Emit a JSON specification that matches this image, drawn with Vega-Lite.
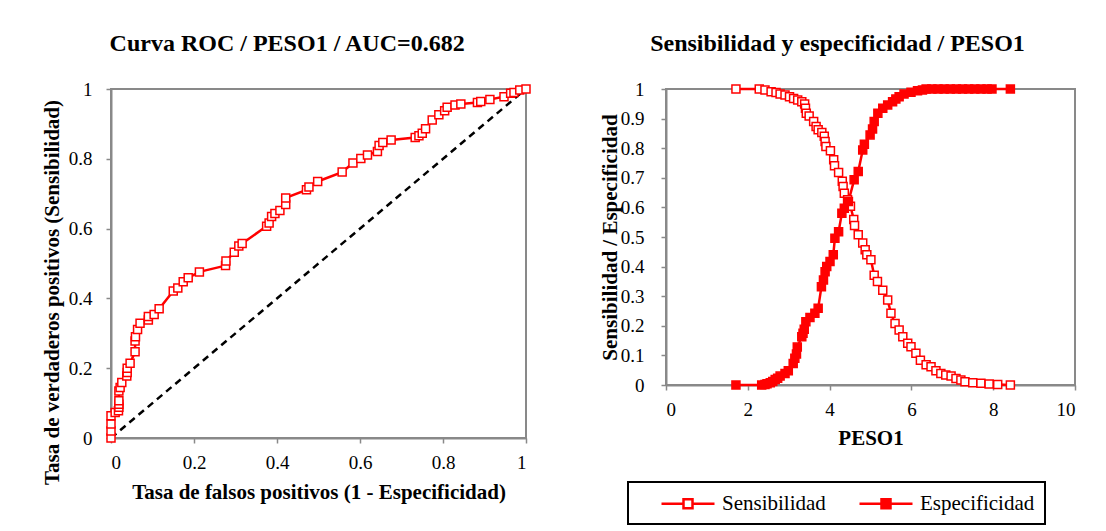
{
  "$schema": "https://vega.github.io/schema/vega-lite/v6.json",
  "padding": {"left": 40, "top": 31, "right": 5, "bottom": 5},
  "spacing": 64,
  "config": {
    "font": "Liberation Serif",
    "view": {"stroke": "#898989", "strokeWidth": 2},
    "axis": {
      "domainColor": "#898989", "domainWidth": 2, "tickColor": "#898989", "tickWidth": 1.5, "tickSize": 5,
      "grid": false, "labelFont": "Liberation Serif", "labelFontSize": 19, "labelColor": "black", "labelPadding": 10,
      "titleFont": "Liberation Serif", "titleFontSize": 21, "titleFontWeight": "bold", "titleColor": "black", "format": "~r"
    },
    "title": {"font": "Liberation Serif", "fontSize": 24, "fontWeight": "bold", "color": "black", "offset": 24, "frame": "bounds"}
  },
  "hconcat": [
    {
      "width": 415,
      "height": 349,
      "title": "Curva ROC / PESO1 / AUC=0.682",
      "layer": [
        {
          "data": {"values": [{"fx": 0, "ty": 0}, {"fx": 1, "ty": 1}]},
          "mark": {"type": "line", "color": "black", "strokeWidth": 2.5, "strokeDash": [7, 5]},
          "encoding": {
            "x": {"field": "fx", "type": "quantitative"},
            "y": {"field": "ty", "type": "quantitative"}
          }
        },
        {
          "data": {"values": [
            {"fpr": 0, "tpr": 0}, {"fpr": 0, "tpr": 0.02}, {"fpr": 0, "tpr": 0.04}, {"fpr": 0, "tpr": 0.064},
            {"fpr": 0.01, "tpr": 0.073}, {"fpr": 0.018, "tpr": 0.078}, {"fpr": 0.019, "tpr": 0.088}, {"fpr": 0.019, "tpr": 0.097},
            {"fpr": 0.019, "tpr": 0.107}, {"fpr": 0.019, "tpr": 0.135}, {"fpr": 0.022, "tpr": 0.145}, {"fpr": 0.026, "tpr": 0.159},
            {"fpr": 0.038, "tpr": 0.178}, {"fpr": 0.039, "tpr": 0.188}, {"fpr": 0.039, "tpr": 0.2}, {"fpr": 0.046, "tpr": 0.214},
            {"fpr": 0.058, "tpr": 0.247}, {"fpr": 0.058, "tpr": 0.278}, {"fpr": 0.059, "tpr": 0.29}, {"fpr": 0.064, "tpr": 0.311},
            {"fpr": 0.07, "tpr": 0.329}, {"fpr": 0.09, "tpr": 0.338}, {"fpr": 0.09, "tpr": 0.348}, {"fpr": 0.104, "tpr": 0.354},
            {"fpr": 0.116, "tpr": 0.37}, {"fpr": 0.15, "tpr": 0.421}, {"fpr": 0.161, "tpr": 0.43}, {"fpr": 0.174, "tpr": 0.448},
            {"fpr": 0.186, "tpr": 0.459}, {"fpr": 0.213, "tpr": 0.476}, {"fpr": 0.276, "tpr": 0.494}, {"fpr": 0.277, "tpr": 0.507},
            {"fpr": 0.297, "tpr": 0.532}, {"fpr": 0.308, "tpr": 0.55}, {"fpr": 0.316, "tpr": 0.557}, {"fpr": 0.375, "tpr": 0.607},
            {"fpr": 0.381, "tpr": 0.616}, {"fpr": 0.387, "tpr": 0.635}, {"fpr": 0.395, "tpr": 0.643}, {"fpr": 0.407, "tpr": 0.652},
            {"fpr": 0.421, "tpr": 0.669}, {"fpr": 0.421, "tpr": 0.688}, {"fpr": 0.471, "tpr": 0.711}, {"fpr": 0.477, "tpr": 0.719},
            {"fpr": 0.498, "tpr": 0.735}, {"fpr": 0.557, "tpr": 0.762}, {"fpr": 0.583, "tpr": 0.788}, {"fpr": 0.602, "tpr": 0.801},
            {"fpr": 0.618, "tpr": 0.811}, {"fpr": 0.642, "tpr": 0.821}, {"fpr": 0.646, "tpr": 0.838}, {"fpr": 0.655, "tpr": 0.847},
            {"fpr": 0.675, "tpr": 0.854}, {"fpr": 0.733, "tpr": 0.861}, {"fpr": 0.742, "tpr": 0.866}, {"fpr": 0.75, "tpr": 0.873},
            {"fpr": 0.758, "tpr": 0.886}, {"fpr": 0.774, "tpr": 0.911}, {"fpr": 0.79, "tpr": 0.926}, {"fpr": 0.804, "tpr": 0.938},
            {"fpr": 0.81, "tpr": 0.948}, {"fpr": 0.829, "tpr": 0.954}, {"fpr": 0.843, "tpr": 0.957}, {"fpr": 0.883, "tpr": 0.961},
            {"fpr": 0.891, "tpr": 0.964}, {"fpr": 0.913, "tpr": 0.97}, {"fpr": 0.947, "tpr": 0.978}, {"fpr": 0.963, "tpr": 0.988},
            {"fpr": 0.971, "tpr": 0.99}, {"fpr": 0.985, "tpr": 0.997}, {"fpr": 1, "tpr": 1}
          ]},
          "mark": {"type": "line", "color": "red", "strokeWidth": 2.5,
                   "point": {"shape": "square", "filled": false, "fill": "white", "stroke": "red", "strokeWidth": 1.5, "size": 64}},
          "encoding": {
            "x": {"field": "fpr", "type": "quantitative", "scale": {"domain": [0, 1], "nice": false},
                  "axis": {"values": [0, 0.2, 0.4, 0.6, 0.8, 1], "title": "Tasa de falsos positivos (1 - Especificidad)", "titlePadding": 9}},
            "y": {"field": "tpr", "type": "quantitative", "scale": {"domain": [0, 1], "nice": false},
                  "axis": {"values": [0, 0.1, 0.2, 0.3, 0.4, 0.5, 0.6, 0.7, 0.8, 0.9, 1], "title": "Tasa de verdaderos positivos (Sensibilidad)", "titlePadding": 6, "labelPadding": 14, "titleY": 203}},
            "order": [{"field": "fpr", "type": "quantitative"}, {"field": "tpr", "type": "quantitative"}]
          }
        }
      ]
    },
    {
      "width": 409,
      "height": 296,
      "title": "Sensibilidad y especificidad / PESO1",
      "data": {"values": [
        {"peso": 1.71, "val": 1.0, "serie": "Sensibilidad"}, {"peso": 2.28, "val": 1.0, "serie": "Sensibilidad"},
        {"peso": 2.42, "val": 0.997, "serie": "Sensibilidad"}, {"peso": 2.57, "val": 0.991, "serie": "Sensibilidad"},
        {"peso": 2.69, "val": 0.988, "serie": "Sensibilidad"}, {"peso": 2.79, "val": 0.983, "serie": "Sensibilidad"},
        {"peso": 2.91, "val": 0.98, "serie": "Sensibilidad"}, {"peso": 3.02, "val": 0.974, "serie": "Sensibilidad"},
        {"peso": 3.12, "val": 0.968, "serie": "Sensibilidad"}, {"peso": 3.22, "val": 0.963, "serie": "Sensibilidad"},
        {"peso": 3.32, "val": 0.957, "serie": "Sensibilidad"}, {"peso": 3.39, "val": 0.949, "serie": "Sensibilidad"},
        {"peso": 3.41, "val": 0.935, "serie": "Sensibilidad"}, {"peso": 3.43, "val": 0.918, "serie": "Sensibilidad"},
        {"peso": 3.5, "val": 0.909, "serie": "Sensibilidad"}, {"peso": 3.61, "val": 0.89, "serie": "Sensibilidad"},
        {"peso": 3.67, "val": 0.873, "serie": "Sensibilidad"}, {"peso": 3.72, "val": 0.862, "serie": "Sensibilidad"},
        {"peso": 3.81, "val": 0.853, "serie": "Sensibilidad"}, {"peso": 3.87, "val": 0.84, "serie": "Sensibilidad"},
        {"peso": 3.89, "val": 0.823, "serie": "Sensibilidad"}, {"peso": 3.91, "val": 0.806, "serie": "Sensibilidad"},
        {"peso": 4.02, "val": 0.791, "serie": "Sensibilidad"}, {"peso": 4.1, "val": 0.761, "serie": "Sensibilidad"},
        {"peso": 4.12, "val": 0.741, "serie": "Sensibilidad"}, {"peso": 4.22, "val": 0.718, "serie": "Sensibilidad"},
        {"peso": 4.31, "val": 0.688, "serie": "Sensibilidad"}, {"peso": 4.33, "val": 0.671, "serie": "Sensibilidad"},
        {"peso": 4.36, "val": 0.648, "serie": "Sensibilidad"}, {"peso": 4.44, "val": 0.626, "serie": "Sensibilidad"},
        {"peso": 4.51, "val": 0.604, "serie": "Sensibilidad"}, {"peso": 4.59, "val": 0.559, "serie": "Sensibilidad"},
        {"peso": 4.61, "val": 0.539, "serie": "Sensibilidad"}, {"peso": 4.7, "val": 0.508, "serie": "Sensibilidad"},
        {"peso": 4.81, "val": 0.48, "serie": "Sensibilidad"}, {"peso": 4.87, "val": 0.457, "serie": "Sensibilidad"},
        {"peso": 4.91, "val": 0.44, "serie": "Sensibilidad"}, {"peso": 5.01, "val": 0.423, "serie": "Sensibilidad"},
        {"peso": 5.09, "val": 0.371, "serie": "Sensibilidad"}, {"peso": 5.17, "val": 0.35, "serie": "Sensibilidad"},
        {"peso": 5.3, "val": 0.32, "serie": "Sensibilidad"}, {"peso": 5.42, "val": 0.287, "serie": "Sensibilidad"},
        {"peso": 5.5, "val": 0.242, "serie": "Sensibilidad"}, {"peso": 5.6, "val": 0.208, "serie": "Sensibilidad"},
        {"peso": 5.7, "val": 0.186, "serie": "Sensibilidad"}, {"peso": 5.79, "val": 0.163, "serie": "Sensibilidad"},
        {"peso": 5.91, "val": 0.141, "serie": "Sensibilidad"}, {"peso": 5.99, "val": 0.129, "serie": "Sensibilidad"},
        {"peso": 6.11, "val": 0.107, "serie": "Sensibilidad"}, {"peso": 6.22, "val": 0.084, "serie": "Sensibilidad"},
        {"peso": 6.36, "val": 0.068, "serie": "Sensibilidad"}, {"peso": 6.48, "val": 0.062, "serie": "Sensibilidad"},
        {"peso": 6.6, "val": 0.048, "serie": "Sensibilidad"}, {"peso": 6.72, "val": 0.039, "serie": "Sensibilidad"},
        {"peso": 6.84, "val": 0.034, "serie": "Sensibilidad"}, {"peso": 6.97, "val": 0.03, "serie": "Sensibilidad"},
        {"peso": 7.09, "val": 0.022, "serie": "Sensibilidad"}, {"peso": 7.21, "val": 0.017, "serie": "Sensibilidad"},
        {"peso": 7.31, "val": 0.011, "serie": "Sensibilidad"}, {"peso": 7.5, "val": 0.008, "serie": "Sensibilidad"},
        {"peso": 7.7, "val": 0.006, "serie": "Sensibilidad"}, {"peso": 7.9, "val": 0.003, "serie": "Sensibilidad"},
        {"peso": 8.11, "val": 0.002, "serie": "Sensibilidad"}, {"peso": 8.42, "val": 0.0, "serie": "Sensibilidad"},
        {"peso": 1.71, "val": 0.0, "serie": "Especificidad"}, {"peso": 2.34, "val": 0.0, "serie": "Especificidad"},
        {"peso": 2.42, "val": 0.002, "serie": "Especificidad"}, {"peso": 2.47, "val": 0.004, "serie": "Especificidad"},
        {"peso": 2.55, "val": 0.008, "serie": "Especificidad"}, {"peso": 2.61, "val": 0.012, "serie": "Especificidad"},
        {"peso": 2.67, "val": 0.019, "serie": "Especificidad"}, {"peso": 2.73, "val": 0.023, "serie": "Especificidad"},
        {"peso": 2.79, "val": 0.03, "serie": "Especificidad"}, {"peso": 2.91, "val": 0.039, "serie": "Especificidad"},
        {"peso": 2.99, "val": 0.048, "serie": "Especificidad"}, {"peso": 3.11, "val": 0.073, "serie": "Especificidad"},
        {"peso": 3.15, "val": 0.09, "serie": "Especificidad"}, {"peso": 3.19, "val": 0.105, "serie": "Especificidad"},
        {"peso": 3.21, "val": 0.128, "serie": "Especificidad"}, {"peso": 3.32, "val": 0.163, "serie": "Especificidad"},
        {"peso": 3.35, "val": 0.175, "serie": "Especificidad"}, {"peso": 3.38, "val": 0.188, "serie": "Especificidad"},
        {"peso": 3.42, "val": 0.214, "serie": "Especificidad"}, {"peso": 3.52, "val": 0.228, "serie": "Especificidad"},
        {"peso": 3.64, "val": 0.242, "serie": "Especificidad"}, {"peso": 3.72, "val": 0.259, "serie": "Especificidad"},
        {"peso": 3.8, "val": 0.332, "serie": "Especificidad"}, {"peso": 3.85, "val": 0.355, "serie": "Especificidad"},
        {"peso": 3.89, "val": 0.383, "serie": "Especificidad"}, {"peso": 3.93, "val": 0.4, "serie": "Especificidad"},
        {"peso": 4.01, "val": 0.417, "serie": "Especificidad"}, {"peso": 4.09, "val": 0.44, "serie": "Especificidad"},
        {"peso": 4.13, "val": 0.496, "serie": "Especificidad"}, {"peso": 4.22, "val": 0.518, "serie": "Especificidad"},
        {"peso": 4.3, "val": 0.58, "serie": "Especificidad"}, {"peso": 4.36, "val": 0.597, "serie": "Especificidad"},
        {"peso": 4.46, "val": 0.62, "serie": "Especificidad"}, {"peso": 4.6, "val": 0.693, "serie": "Especificidad"},
        {"peso": 4.7, "val": 0.721, "serie": "Especificidad"}, {"peso": 4.81, "val": 0.794, "serie": "Especificidad"},
        {"peso": 4.85, "val": 0.813, "serie": "Especificidad"}, {"peso": 4.99, "val": 0.845, "serie": "Especificidad"},
        {"peso": 5.05, "val": 0.865, "serie": "Especificidad"}, {"peso": 5.09, "val": 0.89, "serie": "Especificidad"},
        {"peso": 5.18, "val": 0.918, "serie": "Especificidad"}, {"peso": 5.3, "val": 0.935, "serie": "Especificidad"},
        {"peso": 5.42, "val": 0.946, "serie": "Especificidad"}, {"peso": 5.54, "val": 0.957, "serie": "Especificidad"},
        {"peso": 5.62, "val": 0.966, "serie": "Especificidad"}, {"peso": 5.7, "val": 0.974, "serie": "Especificidad"},
        {"peso": 5.82, "val": 0.983, "serie": "Especificidad"}, {"peso": 5.99, "val": 0.989, "serie": "Especificidad"},
        {"peso": 6.15, "val": 0.994, "serie": "Especificidad"}, {"peso": 6.27, "val": 0.997, "serie": "Especificidad"},
        {"peso": 6.36, "val": 1.0, "serie": "Especificidad"}, {"peso": 6.5, "val": 1.0, "serie": "Especificidad"},
        {"peso": 6.65, "val": 1.0, "serie": "Especificidad"}, {"peso": 6.8, "val": 1.0, "serie": "Especificidad"},
        {"peso": 6.95, "val": 1.0, "serie": "Especificidad"}, {"peso": 7.1, "val": 1.0, "serie": "Especificidad"},
        {"peso": 7.25, "val": 1.0, "serie": "Especificidad"}, {"peso": 7.4, "val": 1.0, "serie": "Especificidad"},
        {"peso": 7.55, "val": 1.0, "serie": "Especificidad"}, {"peso": 7.7, "val": 1.0, "serie": "Especificidad"},
        {"peso": 7.85, "val": 1.0, "serie": "Especificidad"}, {"peso": 7.97, "val": 1.0, "serie": "Especificidad"},
        {"peso": 8.42, "val": 1.0, "serie": "Especificidad"}
      ]},
      "encoding": {
        "x": {"field": "peso", "type": "quantitative", "scale": {"domain": [0, 10], "nice": false},
              "axis": {"values": [0, 2, 4, 6, 8, 10], "title": "PESO1", "titlePadding": 8}},
        "y": {"field": "val", "type": "quantitative", "scale": {"domain": [0, 1], "nice": false},
              "axis": {"values": [0, 0.1, 0.2, 0.3, 0.4, 0.5, 0.6, 0.7, 0.8, 0.9, 1], "title": "Sensibilidad / Especificidad", "titlePadding": 0, "labelPadding": 17}}
      },
      "layer": [
        {
          "mark": {"type": "line", "color": "red", "strokeWidth": 2.5},
          "encoding": {"detail": {"field": "serie", "type": "nominal"}}
        },
        {
          "mark": {"type": "point", "shape": "square", "stroke": "red", "strokeWidth": 1.5, "size": 64, "opacity": 1},
          "encoding": {
            "fill": {"field": "serie", "type": "nominal",
                     "scale": {"domain": ["Sensibilidad", "Especificidad"], "range": ["white", "red"]},
                     "legend": {
                       "title": null, "orient": "none", "legendX": 517, "legendY": 393, "direction": "horizontal",
                       "symbolType": "M1.2,0H3.4M4.3,0H6.5M3.4,-0.45H4.3V0.45H3.4Z",
                       "symbolSize": 400, "symbolStrokeColor": "red", "symbolStrokeWidth": 2.5,
                       "labelFont": "Liberation Serif", "labelFontSize": 21, "labelColor": "black", "labelOffset": 61,
                       "columnPadding": 10, "padding": 10, "strokeColor": "black",
                       "symbolOpacity": 1,
                       "encode": {"legend": {"update": {"strokeWidth": {"value": 2}}}}
                     }}
          }
        }
      ]
    }
  ]
}
